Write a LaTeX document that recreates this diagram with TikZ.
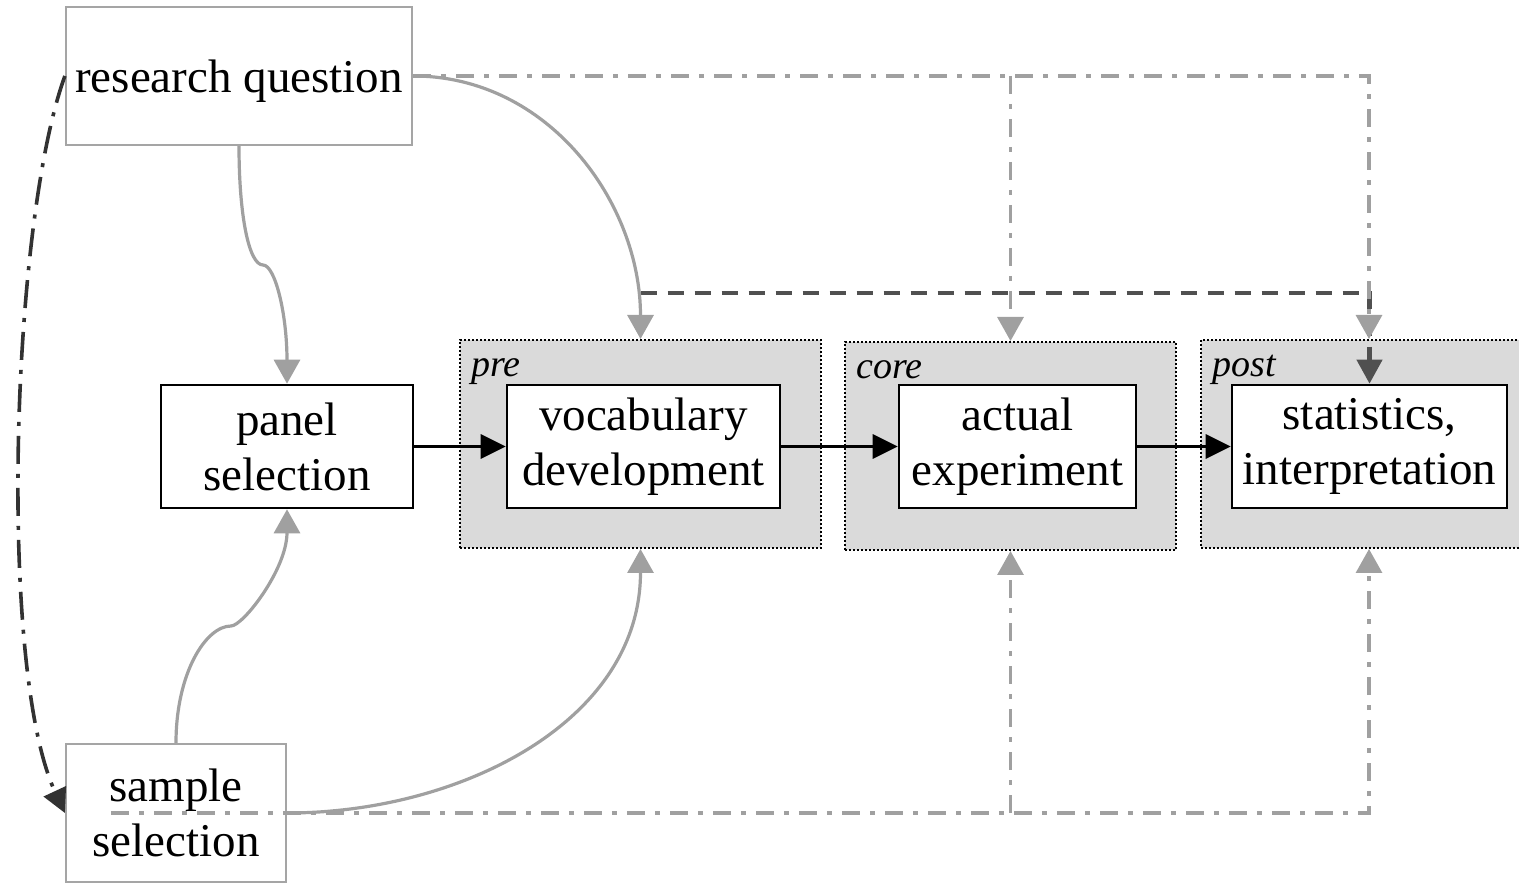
\documentclass[tikz,border=0pt]{standalone}
\usepackage{fontspec}
\setmainfont{Liberation Serif}
\usetikzlibrary{arrows.meta}

\definecolor{linegray}{RGB}{160,160,160}
\definecolor{boxgray}{RGB}{165,165,165}
\definecolor{phasefill}{RGB}{218,218,218}
\definecolor{darkdash}{RGB}{80,80,80}
\definecolor{darkline}{RGB}{50,50,50}

\begin{document}
\begin{tikzpicture}[x=0.5pt, y=0.5pt,
    box/.style={draw=black, line width=1.3pt, fill=white, align=center, inner sep=0pt,
        minimum height=61.5pt, font=\fontsize{23.5}{27.5}\selectfont},
    srcbox/.style={draw=boxgray, line width=1.1pt, align=center, inner sep=0pt,
        minimum height=69pt, font=\fontsize{23.5}{27.5}\selectfont},
    phase/.style={draw=black, fill=phasefill, line width=1pt, dash pattern=on 1pt off 1pt,
        minimum height=104pt, inner sep=0pt},
    phaselabel/.style={anchor=base west, inner sep=0pt, font=\fontsize{19}{22}\selectfont\itshape},
    flow/.style={-{Triangle[length=12.5pt,width=12pt]}, line width=1.7pt},
    infl/.style={-{Triangle[length=12pt,width=13pt]}, draw=linegray, line width=1.6pt},
    reuse/.style={-{Triangle[length=12pt,width=13pt]}, draw=linegray, line width=1.6pt,
        dash pattern=on 9pt off 5pt on 2.5pt off 5pt},
    loopback/.style={-{Triangle[length=12pt,width=12pt]}, draw=darkline, line width=1.8pt,
        dash pattern=on 14pt off 5pt on 2pt off 5pt},
    feedback/.style={-{Triangle[length=12pt,width=12.5pt]}, draw=darkdash, line width=2.2pt,
        dash pattern=on 8pt off 5.5pt}]
    \useasboundingbox (0,0) rectangle (1519,883);

    % Phases
    \node[phase, minimum width=180.5pt] (pre) at (640.5,439) {};
    \node[phase, minimum width=165.5pt] (core) at (1010.5,437) {};
    \node[phase, minimum width=168pt] (post) at (1369,439) {};
    \node[phaselabel] (prelab) at ([shift={(6pt,-19pt)}]pre.north west) {pre};
    \node[phaselabel] (corelab) at ([shift={(6pt,-19pt)}]core.north west) {core};
    \node[phaselabel] (postlab) at ([shift={(6pt,-19pt)}]post.north west) {post};

    % Steps
    \node[srcbox, minimum width=173pt, text depth=0pt] (rq) at (239,807) {research question};
    \node[box, minimum width=126pt] (pan) at (287,436.5) {panel\\selection};
    \node[box, minimum width=136.5pt] (vd) at (643.5,436.5) {vocabulary\\development};
    \node[box, minimum width=118.5pt] (ae) at (1017.5,436.5) {actual\\experiment};
    \node[box, minimum width=137.5pt] (st) at (1369.5,436.5) {statistics,\\interpretation};
    \node[srcbox, minimum width=110pt] (ss) at (176,70) {sample\\selection};

    % Points de passage
    \coordinate (kA) at (263,618);
    \coordinate (kB) at (231,257);
    \coordinate (dsh) at (640.5,590);

    % Main flow
    \draw[flow] (pan) -- (vd);
    \draw[flow] (vd) -- (ae);
    \draw[flow] (ae) -- (st);

    % Feedback to statistics
    \draw[feedback] (dsh) -| (st.north);

    % Reuse of question and sample
    \draw[reuse] (rq.east) -| (post.north);
    \draw[reuse] (core.north |- rq.east) -- (core.north);
    \draw[reuse, shorten <=23pt] (ss.west) -| (post.south);
    \draw[reuse] (core.south |- ss.west) -- (core.south);

    % Influences
    \draw[infl] (rq.south) .. controls +(0,-70) and +(-14,0) .. (kA)
        .. controls +(12,0) and +(0,70) .. (pan.north);
    \draw[infl] (ss.north) .. controls +(0,70) and +(-25,0) .. (kB)
        .. controls +(12,0) and +(0,-60) .. (pan.south);
    \draw[infl] (rq.east) to[out=0, in=90] (pre.north);
    \draw[infl] (ss.east) to[out=0, in=-90] (pre.south);

    % Question to sample
    \draw[loopback] (rq.west) to[out=-110, in=115, looseness=0.55] (ss.west);
\end{tikzpicture}
\end{document}
